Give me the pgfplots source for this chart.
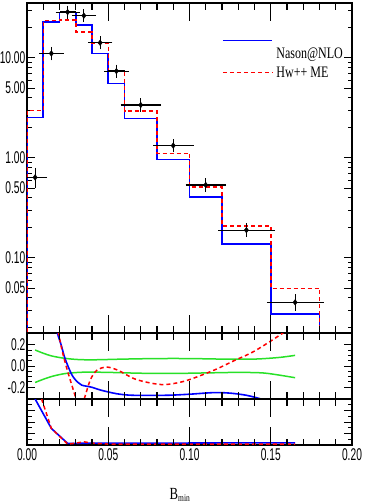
\documentclass[border=0pt]{standalone}
\usepackage{fontspec}
\setmainfont{Liberation Serif}
\newfontfamily\tickfont{Liberation Sans}[FakeStretch=0.6]
\newfontfamily\legfont{Liberation Serif}[FakeStretch=0.75]
\usepackage{pgfplots}
\pgfplotsset{compat=1.18}

\definecolor{nasonblue}{RGB}{0,0,255}
\definecolor{hwred}{RGB}{255,0,0}
\definecolor{bandgreen}{RGB}{40,225,40}

\tikzset{
  nason/.style={nasonblue, line width=1.6pt},
  hw/.style={hwred, line width=1.5pt, dash pattern=on 4pt off 3pt},
  band/.style={bandgreen, line width=1.5pt, smooth},
  xtk/.style={black, line width=1.2pt},
}

% long major and shorter minor x ticks, top and bottom of a panel
\newcommand{\xrules}{%
  \pgfplotsinvokeforeach{0.25,0.5,0.75}{%
    \draw[xtk] (rel axis cs:##1,0) -- ++(0pt,18pt);
    \draw[xtk] (rel axis cs:##1,1) -- ++(0pt,-18pt);}%
  \pgfplotsinvokeforeach{0.05,0.1,0.15,0.2,0.3,0.35,0.4,0.45,0.55,0.6,0.65,0.7,0.8,0.85,0.9,0.95}{%
    \draw[xtk] (rel axis cs:##1,0) -- ++(0pt,6.5pt);
    \draw[xtk] (rel axis cs:##1,1) -- ++(0pt,-6.5pt);}%
}

\pgfplotsset{
  panel/.style={
    scale only axis, width=325pt,
    xmin=0, xmax=0.2,
    axis line style={line width=1.2pt},
    tick style={black, line width=1pt},
    tick align=inside,
    xtick={0,0.05,0.1,0.15,0.2},
    major tick length=8pt, minor tick length=4.5pt,
    tick label style={font=\tickfont\fontsize{17}{17}\selectfont},
    yticklabel style={inner xsep=1.5pt},
    clip=true,
  },
}

\begin{document}
\begin{tikzpicture}

% main distribution
\begin{axis}[panel, at={(0pt,112pt)}, anchor=south west, height=330pt,
  ymode=log, ymin=0.01778, ymax=35.48,
  ytick={0.05,0.1,0.5,1,5,10},
  yticklabels={0.05,0.10,0.50,1.00,5.00,10.00},
  minor ytick={0.02,0.03,0.04,0.06,0.07,0.08,0.09,0.2,0.3,0.4,0.6,0.7,0.8,0.9,2,3,4,6,7,8,9,20,30},
  xticklabels={},
]
\addplot[nason, const plot mark left] coordinates {
  (0,0.001) (0,2.55) (0.01,23) (0.02,28.4) (0.03,21.4) (0.04,11.1) (0.05,5.58)
  (0.06,2.49) (0.08,0.97) (0.10,0.405) (0.12,0.138) (0.15,0.0275) (0.18,0.0275) (0.18,0.001)
};
\addplot[hw, const plot mark left] coordinates {
  (0,0.001) (0,2.97) (0.01,23.6) (0.02,24) (0.03,18.3) (0.04,14.0) (0.05,7.3)
  (0.06,2.95) (0.08,1.11) (0.10,0.51) (0.12,0.21) (0.15,0.0497) (0.18,0.0497) (0.18,0.001)
};
\addplot[black, only marks, mark=diamond*, mark size=2.8pt,
  error bars/.cd, x dir=both, x explicit, y dir=both, y explicit,
  error bar style={line width=1.2pt, black},
  error mark options={black, mark size=4pt, line width=1.1pt}]
  coordinates {
  (0.005,0.64) +- (0.005,0.085)
  (0.015,11.1) +- (0.005,0.7)
  (0.025,28.8) +- (0.005,1.6)
  (0.035,26.5) +- (0.005,1.5)
  (0.045,14.2) +- (0.005,0.8)
  (0.055,7.4) +- (0.005,0.45)
  (0.07,3.39) +- (0.01,0.2)
  (0.09,1.33) +- (0.01,0.08)
  (0.11,0.537) +- (0.01,0.035)
  (0.135,0.19) +- (0.015,0.013)
  (0.165,0.036) +- (0.015,0.0035)
};
\xrules
\draw[nason] (rel axis cs:0.603,0.886) -- (rel axis cs:0.754,0.886);
\node[anchor=west, inner sep=0pt, font=\legfont\fontsize{16}{16}\selectfont] at (rel axis cs:0.767,0.842) {Nason@NLO};
\draw[hw] (rel axis cs:0.603,0.789) -- (rel axis cs:0.754,0.789);
\node[anchor=west, inner sep=0pt, font=\legfont\fontsize{16}{16}\selectfont] at (rel axis cs:0.767,0.789) {Hw++ ME};
\end{axis}

% first ratio panel
\begin{axis}[panel, at={(0pt,46pt)}, anchor=south west, height=66pt,
  ymin=-0.31, ymax=0.31,
  ytick={-0.2,0,0.2}, yticklabels={-0.2,0.0,0.2},
  minor y tick num=3,
  xticklabels={},
]
\addplot[band] coordinates {
  (0.005,0.15) (0.01,0.12) (0.015,0.095) (0.022,0.075) (0.03,0.062) (0.04,0.058)
  (0.06,0.065) (0.08,0.07) (0.1,0.07) (0.12,0.065) (0.14,0.065) (0.155,0.08) (0.165,0.1)
};
\addplot[band] coordinates {
  (0.005,-0.155) (0.01,-0.125) (0.016,-0.095) (0.024,-0.07) (0.035,-0.058) (0.05,-0.06)
  (0.07,-0.068) (0.09,-0.07) (0.11,-0.065) (0.13,-0.06) (0.145,-0.065) (0.155,-0.085) (0.165,-0.11)
};
\addplot[nason, smooth] coordinates {
  (0.017,0.45) (0.0187,0.31) (0.021,0.2) (0.0234,0.07) (0.0275,-0.08) (0.031,-0.15)
  (0.0337,-0.18) (0.04,-0.2) (0.045,-0.225) (0.055,-0.26) (0.065,-0.275) (0.086,-0.275)
  (0.1,-0.265) (0.115,-0.25) (0.125,-0.255) (0.135,-0.275) (0.144,-0.31) (0.15,-0.34)
};
\addplot[hw, smooth] coordinates {
  (0.017,0.45) (0.0193,0.31) (0.022,0.12) (0.025,-0.05) (0.028,-0.2) (0.0305,-0.32)
  (0.033,-0.4) (0.035,-0.32) (0.039,-0.13) (0.043,-0.04) (0.049,-0.01) (0.056,-0.04)
  (0.066,-0.12) (0.076,-0.16) (0.084,-0.175) (0.092,-0.16) (0.1,-0.128) (0.115,-0.04)
  (0.127,0.047) (0.14,0.14) (0.157,0.305) (0.165,0.4)
};
\xrules
\end{axis}

% second ratio panel
\begin{axis}[panel, at={(0pt,0pt)}, anchor=south west, height=46pt,
  ymin=0, ymax=1,
  ytick={0,0.25,0.5,0.75,1}, yticklabels={},
  minor y tick num=1,
  xticklabels={0.00,0.05,0.10,0.15,0.20},
  xlabel={\legfont\fontsize{17}{17}\selectfont B\raisebox{-0.35ex}{\fontsize{10}{10}\selectfont min}},
  xlabel style={at={(axis description cs:0.47,0)}, anchor=center, yshift=-50pt},
]
\addplot[nason] coordinates {
  (0.005,1.0) (0.015,0.36) (0.025,0.035) (0.04,0.04) (0.08,0.04) (0.12,0.045) (0.165,0.045)
};
\addplot[hw] coordinates {
  (0.009,1.0) (0.015,0.36) (0.025,0.02) (0.03,0.04) (0.035,0.07) (0.04,0.04)
  (0.05,0.02) (0.1,0.02) (0.165,0.02)
};
\xrules
\end{axis}

\pgfresetboundingbox
\useasboundingbox (-27pt,-58pt) rectangle (337pt,445pt);
\end{tikzpicture}
\end{document}
